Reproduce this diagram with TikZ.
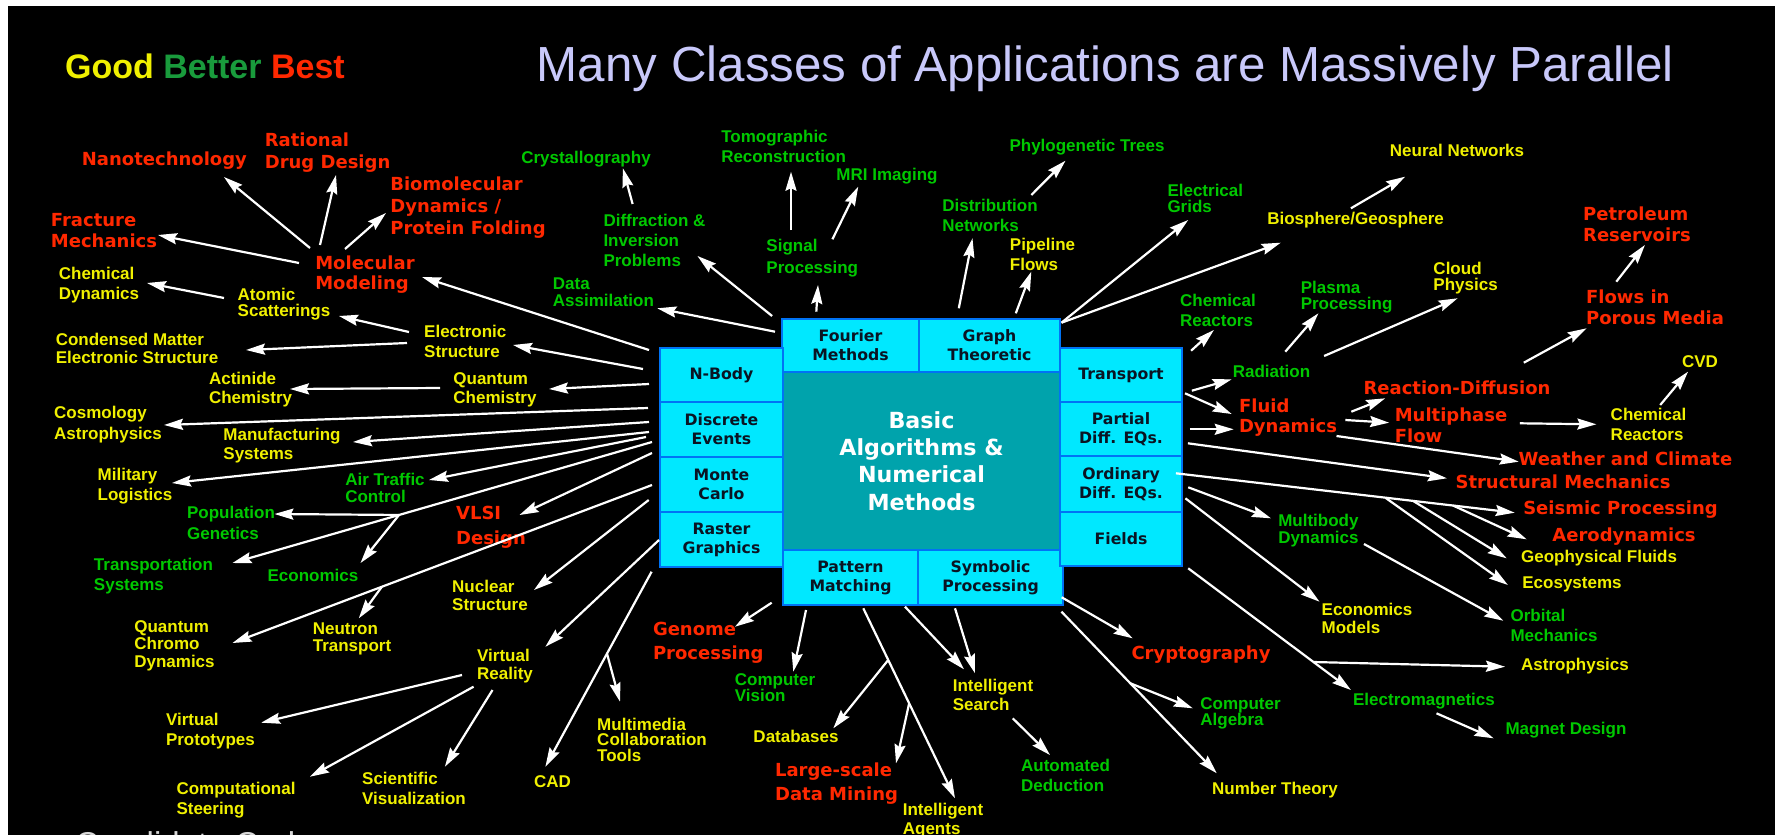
\documentclass[tikz,border=0pt]{standalone}
\usepackage{fontspec}
\setmainfont{Liberation Sans}
\newfontfamily\wide{DejaVu Sans}
\usetikzlibrary{arrows.meta,calc}

\definecolor{good}{RGB}{240,240,0}
\definecolor{better}{RGB}{0,200,0}
\definecolor{betterhead}{RGB}{25,155,60}
\definecolor{best}{RGB}{255,40,0}
\definecolor{headline}{RGB}{200,200,250}
\definecolor{cellfill}{RGB}{0,232,255}
\definecolor{cellline}{RGB}{0,115,245}
\definecolor{corefill}{RGB}{0,163,172}
\definecolor{celltext}{RGB}{10,20,35}

\tikzset{
  lead/.style={font=\bfseries\fontsize{17}{#1}\selectfont},
  redlead/.style={font=\wide\bfseries\fontsize{18}{#1}\selectfont},
  goodlbl/.style={inner sep=0pt, align=left, text=good, lead=19.5},
  betterlbl/.style={inner sep=0pt, align=left, text=better, lead=19.5},
  bestlbl/.style={inner sep=0pt, align=left, text=best, redlead=21},
  cell/.style={draw=cellline, fill=cellfill, line width=1.8pt, align=center,
    text=celltext, font=\wide\bfseries\fontsize{15.7}{19}\selectfont,
    minimum width=123pt, minimum height=54pt, inner sep=0pt},
  core/.style={fill=corefill, minimum width=277pt, minimum height=178pt,
    text=white, align=center, font=\wide\bfseries\fontsize{22.2}{27.3}\selectfont},
  arr/.style={white, line width=2.2pt, -{Stealth[length=19pt,width=11pt,inset=2.5pt]}},
}

\begin{document}
\begin{tikzpicture}[x=1pt,y=-1pt]
\useasboundingbox (0,0) rectangle (1775,835);
\fill[white] (0,0) rectangle (1775,835);
\fill[black] (8,6) rectangle (1775,835);

% headings
\node[anchor=base west, inner sep=0pt, font=\bfseries\fontsize{34}{40}\selectfont] (rating) at (65,78.3)
  {\textcolor{good}{Good} \textcolor{betterhead}{Better} \textcolor{best}{Best}};
\node[anchor=base west, inner sep=0pt, text=headline, font=\fontsize{49.3}{56}\selectfont] (title) at (536.7,81.7)
  {Many Classes of Applications are Massively Parallel};
\node[anchor=base west, inner sep=0pt, text=white!85!black, font=\fontsize{33}{38}\selectfont] (foot) at (75,855)
  {Candidate Code};

% core and its cells
\node[core] (core) at (921.5,461) {Basic\\Algorithms \&\\Numerical\\Methods};
\node[cell, minimum width=137pt, minimum height=53pt] (fourier) at (850.5,345.5) {Fourier\\Methods};
\node[cell, minimum width=141pt, minimum height=53pt] (graph) at (989.5,345.5) {Graph\\Theoretic};
\node[cell] (nbody) at (721.5,375) {N-Body};
\node[cell, minimum height=55pt] (discrete) at (721.5,429.5) {Discrete\\Events};
\node[cell, minimum height=55pt] (monte) at (721.5,484.5) {Monte\\Carlo};
\node[cell, minimum height=55pt] (raster) at (721.5,539.5) {Raster\\Graphics};
\node[cell, minimum width=135pt, minimum height=55pt] (pattern) at (850.5,577.5) {Pattern\\Matching};
\node[cell, minimum width=145pt, minimum height=55pt] (symbolic) at (990.5,577.5) {Symbolic\\Processing};
\node[cell, minimum width=122pt] (transport) at (1121,375) {Transport};
\node[cell, minimum width=122pt] (pde) at (1121,429) {Partial\\Diff. EQs.};
\node[cell, minimum width=122pt, minimum height=56pt] (ode) at (1121,484) {Ordinary\\Diff. EQs.};
\node[cell, minimum width=122pt] (fields) at (1121,539) {Fields};

% red labels
\node[bestlbl] (nano) at (164.4,161) {Nanotechnology};
\node[bestlbl, redlead=22] (drug) at (327.6,153) {Rational\\Drug Design};
\node[bestlbl, redlead=22] (biomol) at (468,207.5) {Biomolecular\\Dynamics /\\Protein Folding};
\node[bestlbl] (fracture) at (104,231) {Fracture\\Mechanics};
\node[bestlbl, redlead=20] (molmod) at (365,275) {Molecular\\Modeling};
\node[bestlbl, redlead=25] (vlsi) at (491,527) {VLSI\\Design};
\node[bestlbl, redlead=24] (genome) at (708.3,643) {Genome\\Processing};
\node[bestlbl, redlead=24] (mining) at (836.5,783.5) {Large-scale\\Data Mining};
\node[bestlbl] (crypto) at (1201,655) {Cryptography};
\node[bestlbl] (weather) at (1625.4,459) {Weather and Climate};
\node[bestlbl] (structural) at (1563,482) {Structural Mechanics};
\node[bestlbl] (seismic) at (1620.5,510) {Seismic Processing};
\node[bestlbl] (aero) at (1624,537) {Aerodynamics};
\node[bestlbl, redlead=20] (fluid) at (1288,417.5) {Fluid\\Dynamics};
\node[bestlbl] (multiphase) at (1451,425) {Multiphase\\Flow};
\node[bestlbl] (reacdiff) at (1457,387.5) {Reaction-Diffusion};
\node[bestlbl] (porous) at (1655,307) {Flows in\\Porous Media};
\node[bestlbl] (petroleum) at (1637,224) {Petroleum\\Reservoirs};

% yellow labels
\node[goodlbl, lead=20] (chemdyn) at (99,285) {Chemical\\Dynamics};
\node[goodlbl, lead=16] (atomic) at (284,304.5) {Atomic\\Scatterings};
\node[goodlbl, lead=18] (condensed) at (137,348) {Condensed Matter\\Electronic Structure};
\node[goodlbl, lead=20] (electronic) at (465.3,341.5) {Electronic\\Structure};
\node[goodlbl, lead=19] (actinide) at (250.6,389.5) {Actinide\\Chemistry};
\node[goodlbl, lead=19] (qchem) at (495,389.5) {Quantum\\Chemistry};
\node[goodlbl, lead=20.5] (cosmo) at (108,424.5) {Cosmology\\Astrophysics};
\node[goodlbl, lead=19] (manuf) at (282,445.5) {Manufacturing\\Systems};
\node[goodlbl, lead=20.5] (military) at (135,486) {Military\\Logistics};
\node[goodlbl, lead=18] (nuclear) at (490,595.5) {Nuclear\\Structure};
\node[goodlbl, lead=17.5] (qcd) at (174.5,645.5) {Quantum\\Chromo\\Dynamics};
\node[goodlbl, lead=17] (neutron) at (352,638.5) {Neutron\\Transport};
\node[goodlbl, lead=18] (vr) at (505,666.5) {Virtual\\Reality};
\node[goodlbl, lead=20] (protot) at (210.4,731.5) {Virtual\\Prototypes};
\node[goodlbl, lead=20] (steering) at (236,800.5) {Computational\\Steering};
\node[goodlbl, lead=20] (scivis) at (414,788.5) {Scientific\\Visualization};
\node[goodlbl] (cad) at (552.5,782) {CAD};
\node[goodlbl, lead=15.5] (multimedia) at (652,739.5) {Multimedia\\Collaboration\\Tools};
\node[goodlbl] (databases) at (796,736) {Databases};
\node[goodlbl, lead=19] (agents) at (943,820.5) {Intelligent\\Agents};
\node[goodlbl, lead=19] (search) at (993,695) {Intelligent\\Search};
\node[goodlbl] (numtheory) at (1275,790.5) {Number Theory};
\node[goodlbl, lead=18] (econmodels) at (1367,618.5) {Economics\\Models};
\node[goodlbl] (astro) at (1575,666) {Astrophysics};
\node[goodlbl] (ecosys) at (1572,584) {Ecosystems};
\node[goodlbl] (geofluids) at (1599,558.5) {Geophysical Fluids};
\node[goodlbl, lead=20] (chemreact) at (1648.5,424) {Chemical\\Reactors};
\node[goodlbl] (cvd) at (1700,361.5) {CVD};
\node[goodlbl, lead=16] (cloud) at (1465.6,278.5) {Cloud\\Physics};
\node[goodlbl] (neural) at (1457,150) {Neural Networks};
\node[goodlbl] (biosphere) at (1355.6,220.5) {Biosphere/Geosphere};
\node[goodlbl, lead=20] (pipeline) at (1042.5,254) {Pipeline\\Flows};

% green labels
\node[betterlbl, lead=17] (airtraffic) at (385,487.5) {Air Traffic\\Control};
\node[betterlbl, lead=20.5] (popgen) at (231,523) {Population\\Genetics};
\node[betterlbl, lead=20] (transp) at (153.5,576) {Transportation\\Systems};
\node[betterlbl] (econ) at (313,575) {Economics};
\node[betterlbl, lead=16] (vision) at (775,688) {Computer\\Vision};
\node[betterlbl, lead=20] (deduction) at (1065.5,775.5) {Automated\\Deduction};
\node[betterlbl, lead=16] (algebra) at (1240.5,713) {Computer\\Algebra};
\node[betterlbl] (emag) at (1424,701.5) {Electromagnetics};
\node[betterlbl] (magnet) at (1566,730.5) {Magnet Design};
\node[betterlbl, lead=20] (orbital) at (1554,625) {Orbital\\Mechanics};
\node[betterlbl, lead=17] (multibody) at (1318.4,531) {Multibody\\Dynamics};
\node[betterlbl] (radiation) at (1271.5,371.5) {Radiation};
\node[betterlbl, lead=20] (chemreactg) at (1218,310.5) {Chemical\\Reactors};
\node[betterlbl, lead=16] (plasma) at (1346.6,297.5) {Plasma\\Processing};
\node[betterlbl, lead=16] (grids) at (1205.3,198) {Electrical\\Grids};
\node[betterlbl] (phylo) at (1087,147.5) {Phylogenetic Trees};
\node[betterlbl, lead=20] (distrib) at (990,215.5) {Distribution\\Networks};
\node[betterlbl] (mri) at (887,176) {MRI Imaging};
\node[betterlbl, lead=20] (tomo) at (783.6,146.5) {Tomographic\\Reconstruction};
\node[betterlbl, lead=22] (signal) at (812.3,258.5) {Signal\\Processing};
\node[betterlbl] (crystal) at (586,159.5) {Crystallography};
\node[betterlbl, lead=20] (diffraction) at (654.5,240) {Diffraction \&\\Inversion\\Problems};
\node[betterlbl, lead=17] (assim) at (603.4,292) {Data\\Assimilation};

% arrow ends: <name>0 is the tail, <name>1 the tip
\path
  (649,350) coordinate (molmod0)       (422,277) coordinate (molmod1)
  (299,263) coordinate (fracture0)     (158,235) coordinate (fracture1)
  (310,248) coordinate (nano0)         (224,177) coordinate (nano1)
  (320,245) coordinate (drug0)         (336,175) coordinate (drug1)
  (345,249) coordinate (biomol0)       (386,213) coordinate (biomol1)
  (224,298) coordinate (chemdyn0)      (147,283) coordinate (chemdyn1)
  (409,332) coordinate (atomic0)       (339,316) coordinate (atomic1)
  (407,343) coordinate (condensed0)    (246,350) coordinate (condensed1)
  (643,369) coordinate (electronic0)   (513,345) coordinate (electronic1)
  (649,384) coordinate (qchem0)        (549,389) coordinate (qchem1)
  (440,388) coordinate (actinide0)     (290,389) coordinate (actinide1)
  (648,408) coordinate (cosmo0)        (164,425) coordinate (cosmo1)
  (649,422) coordinate (manuf0)        (353,442) coordinate (manuf1)
  (649,432) coordinate (military0)     (172,483) coordinate (military1)
  (646,437) coordinate (airtraffic0)   (429,480) coordinate (airtraffic1)
  (652,442) coordinate (transp0)       (232.5,563) coordinate (transp1)
  (274.4,514) coordinate (popgen1)     (360.5,563) coordinate (econ1)
  (652,453) coordinate (vlsi0)         (519.5,515) coordinate (vlsi1)
  (652,485) coordinate (qcd0)          (232.5,643) coordinate (qcd1)
  (358.8,618.3) coordinate (neutron1)
  (648.7,500) coordinate (nuclear0)    (534,590) coordinate (nuclear1)
  (659,540) coordinate (vr0)           (545.4,646.7) coordinate (vr1)
  (651.6,571.7) coordinate (cad0)      (545.4,766.7) coordinate (cad1)
  (620,701.7) coordinate (multimedia1)
  (462,675) coordinate (protot0)       (261.2,722.7) coordinate (protot1)
  (473.6,686.7) coordinate (steering0) (310,776.7) coordinate (steering1)
  (492.5,690) coordinate (scivis0)     (444.9,766.7) coordinate (scivis1)
  % below the core
  (771.7,602.7) coordinate (genome0)   (735,626.7) coordinate (genome1)
  (806,610) coordinate (vision0)       (793.3,671.7) coordinate (vision1)
  (863.3,608.3) coordinate (agents0)   (955,798.3) coordinate (agents1)
  (833.3,728.3) coordinate (databases1) (896,763.3) coordinate (mining1)
  (905,606.7) coordinate (search0)     (964,669.3) coordinate (search1)
  (955,608.3) coordinate (searchb0)    (975,673.3) coordinate (searchb1)
  (1012.7,718.3) coordinate (deduction0) (1050,755) coordinate (deduction1)
  (1061.7,597.3) coordinate (crypto0)  (1132.7,638.3) coordinate (crypto1)
  (1061.5,611.7) coordinate (numtheory0) (1216.8,773.3) coordinate (numtheory1)
  (1192.8,708.3) coordinate (algebra1)
  % right of the core
  (1188.2,568.3) coordinate (emag0)    (1350.9,690) coordinate (emag1)
  (1505,666.7) coordinate (astro1)
  (1436.5,713.3) coordinate (magnet0)  (1493.6,738.3) coordinate (magnet1)
  (1185.4,498.3) coordinate (econmodels0) (1319.5,601.7) coordinate (econmodels1)
  (1188.2,487.3) coordinate (multibody0) (1271,518.3) coordinate (multibody1)
  (1364,544) coordinate (orbital0)     (1503.3,620.7) coordinate (orbital1)
  (1175.9,473.3) coordinate (seismic0) (1514.7,512.7) coordinate (seismic1)
  (1507.9,585) coordinate (ecosys1)    (1506.7,558.3) coordinate (geofluids1)
  (1526.6,539.3) coordinate (aero1)
  (1187.9,443.3) coordinate (structural0) (1446.9,478.3) coordinate (structural1)
  (1189.9,429.3) coordinate (fluid0)   (1233.7,429.3) coordinate (fluid1)
  (1185,393.3) coordinate (fluidb0)    (1231.7,414) coordinate (fluidb1)
  (1191.8,390.7) coordinate (radiation0) (1231.7,379.3) coordinate (radiation1)
  (1345.3,420) coordinate (multiphase0) (1389.1,422.7) coordinate (multiphase1)
  (1351.3,411.7) coordinate (reacdiff0) (1385.2,398.3) coordinate (reacdiff1)
  (1336.5,436) coordinate (weather0)   (1518.7,461.7) coordinate (weather1)
  (1519.9,423.3) coordinate (chemreact0) (1596.4,424.3) coordinate (chemreact1)
  (1660.2,405) coordinate (cvd0)       (1688,371.7) coordinate (cvd1)
  (1191.1,350.7) coordinate (chemreactg0) (1213.9,330) coordinate (chemreactg1)
  (1285.3,351.7) coordinate (plasma0)  (1318.4,313.3) coordinate (plasma1)
  (1324.1,356) coordinate (cloud0)     (1457.6,298.3) coordinate (cloud1)
  (1523.8,362.7) coordinate (porous0)  (1586.6,328.3) coordinate (porous1)
  (1616.3,281.7) coordinate (petroleum0) (1644.9,245) coordinate (petroleum1)
  (1061.5,322.7) coordinate (grids0)   (1188.2,220) coordinate (grids1)
  (1061.5,322.7) coordinate (biosphere0) (1280.7,242.7) coordinate (biosphere1)
  (1350.9,208.3) coordinate (neural0)  (1405.1,176.7) coordinate (neural1)
  (958.8,308.3) coordinate (distrib0)  (972.5,238.3) coordinate (distrib1)
  (1015.8,313.3) coordinate (pipeline0) (1031.3,271.7) coordinate (pipeline1)
  (1031.3,195) coordinate (phylo0)     (1065.5,160.7) coordinate (phylo1)
  % above the core
  (816.3,311.7) coordinate (signal0)   (818,285) coordinate (signal1)
  (791,230) coordinate (tomo0)         (791,171.7) coordinate (tomo1)
  (832.4,239.3) coordinate (mri0)      (858.2,186.7) coordinate (mri1)
  (772.1,316) coordinate (diffraction0) (697.5,256) coordinate (diffraction1)
  (632.6,204) coordinate (crystal0)    (622.9,168.3) coordinate (crystal1)
  (775,331.7) coordinate (assim0)      (657.3,308.3) coordinate (assim1);

% branches that leave a longer arrow part way
\coordinate (popgen0) at ($(transp0)!0.603!(transp1)$);
\coordinate (econ0) at (popgen0);
\coordinate (neutron0) at ($(qcd0)!0.644!(qcd1)$);
\coordinate (multimedia0) at ($(cad0)!0.42!(cad1)$);
\coordinate (databases0) at ($(agents0)!0.272!(agents1)$);
\coordinate (mining0) at ($(agents0)!0.5!(agents1)$);
\coordinate (algebra0) at ($(numtheory0)!0.443!(numtheory1)$);
\coordinate (astro0) at ($(emag0)!0.77!(emag1)$);
\coordinate (ecosys0) at ($(seismic0)!0.618!(seismic1)$);
\coordinate (geofluids0) at ($(seismic0)!0.7!(seismic1)$);
\coordinate (aero0) at ($(seismic0)!0.818!(seismic1)$);

\foreach \n in {molmod,fracture,nano,drug,biomol,chemdyn,atomic,condensed,electronic,
    qchem,actinide,cosmo,manuf,military,airtraffic,transp,popgen,econ,vlsi,qcd,neutron,
    nuclear,vr,cad,multimedia,protot,steering,scivis,
    genome,vision,agents,databases,mining,search,searchb,deduction,crypto,numtheory,algebra,
    emag,astro,magnet,econmodels,multibody,orbital,seismic,ecosys,geofluids,aero,structural,
    fluid,fluidb,radiation,multiphase,reacdiff,weather,chemreact,cvd,chemreactg,plasma,cloud,
    porous,petroleum,grids,biosphere,neural,distrib,pipeline,phylo,
    signal,tomo,mri,diffraction,crystal,assim}
  \draw[arr] (\n0) -- (\n1);
\end{tikzpicture}
\end{document}
